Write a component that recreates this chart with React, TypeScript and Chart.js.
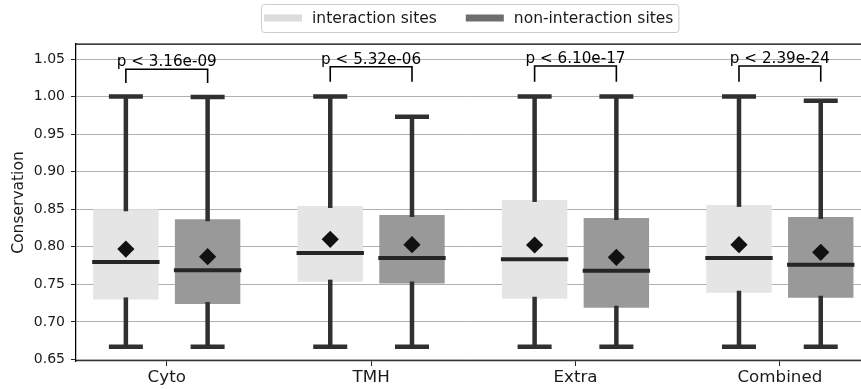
import { useEffect, useRef } from "react";
import { Chart, registerables } from "chart.js";

Chart.register(...registerables);

const FONT = "'DejaVu Sans', 'Liberation Sans', sans-serif";

// Groups along the x axis
const categories = ["Cyto", "TMH", "Extra", "Combined"];
const seriesNames = ["interaction sites", "non-interaction sites"];

// Interaction sites: box-plot summary per group
const interMin = [0.667, 0.667, 0.667, 0.667];
const interQ1 = [0.73, 0.7536, 0.7309, 0.7389];
const interMedian = [0.7798, 0.7918, 0.7833, 0.785];
const interQ3 = [0.85, 0.8544, 0.8624, 0.8558];
const interMax = [1.0, 1.0, 1.0, 1.0];
const interMean = [0.797, 0.81, 0.8024, 0.8029];

// Non-interaction sites: box-plot summary per group
const nonMin = [0.667, 0.667, 0.667, 0.667];
const nonQ1 = [0.7238, 0.7512, 0.7189, 0.7322];
const nonMedian = [0.7687, 0.785, 0.7682, 0.7762];
const nonQ3 = [0.8367, 0.8424, 0.8384, 0.8398];
const nonMax = [0.9993, 0.9731, 1.0, 0.9944];
const nonMean = [0.7869, 0.8029, 0.786, 0.7927];

// Significance annotations
const pLabels = ["p < 3.16e-09", "p < 5.32e-06", "p < 6.10e-17", "p < 2.39e-24"];
const bracketTop = [1.0363, 1.0398, 1.0407, 1.0407];
const bracketFoot = [1.018, 1.0198, 1.0198, 1.0198];

// Axis ticks
const yTicks = [0.65, 0.7, 0.75, 0.8, 0.85, 0.9, 0.95, 1.0, 1.05];

const boxColors = ["#e5e5e5", "#999999"];
const legendColors = ["#dcdcdc", "#6e6e6e"];
const WHISKER = "#303030";
const MEDIAN = "#252525";
const MEAN = "#111111";

const stats = [
  { min: interMin, q1: interQ1, med: interMedian, q3: interQ3, max: interMax, mean: interMean },
  { min: nonMin, q1: nonQ1, med: nonMedian, q3: nonQ3, max: nonMax, mean: nonMean },
];

function seg(ctx: CanvasRenderingContext2D, x1: number, y1: number, x2: number, y2: number) {
  ctx.beginPath();
  ctx.moveTo(x1, y1);
  ctx.lineTo(x2, y2);
  ctx.stroke();
}

// Whiskers, caps, medians and mean diamonds drawn over the boxes and grid
const boxPlotMarks = {
  id: "boxPlotMarks",
  afterDraw(chart: any) {
    const { ctx } = chart;
    const ys = chart.scales.y;
    const py = (v: number) => ys.getPixelForValue(v);
    ctx.save();
    stats.forEach((s, d) => {
      const meta = chart.getDatasetMeta(d);
      meta.data.forEach((el: any, i: number) => {
        const cx = el.x;
        const w = el.width;
        ctx.lineCap = "butt";
        ctx.strokeStyle = WHISKER;
        ctx.lineWidth = 4.5;
        seg(ctx, cx, py(s.q3[i]) + 2, cx, py(s.max[i]));
        seg(ctx, cx, py(s.q1[i]) - 2, cx, py(s.min[i]));
        const cw = w * 0.26;
        seg(ctx, cx - cw, py(s.max[i]), cx + cw, py(s.max[i]));
        seg(ctx, cx - cw, py(s.min[i]), cx + cw, py(s.min[i]));
        ctx.strokeStyle = MEDIAN;
        ctx.lineWidth = 4;
        seg(ctx, cx - w / 2 - 1, py(s.med[i]), cx + w / 2 + 1, py(s.med[i]));
        const my = py(s.mean[i]);
        const r = 8.6;
        ctx.fillStyle = MEAN;
        ctx.beginPath();
        ctx.moveTo(cx, my - r);
        ctx.lineTo(cx + r, my);
        ctx.lineTo(cx, my + r);
        ctx.lineTo(cx - r, my);
        ctx.closePath();
        ctx.fill();
      });
    });
    ctx.restore();
  },
};

// p-value brackets above each pair of boxes
const significance = {
  id: "significance",
  afterDraw(chart: any) {
    const { ctx } = chart;
    const ys = chart.scales.y;
    const a = chart.getDatasetMeta(0).data;
    const b = chart.getDatasetMeta(1).data;
    ctx.save();
    categories.forEach((_, i) => {
      const x1 = a[i].x;
      const x2 = b[i].x;
      const yt = ys.getPixelForValue(bracketTop[i]);
      const yf = ys.getPixelForValue(bracketFoot[i]);
      ctx.strokeStyle = "#000";
      ctx.lineWidth = 1.6;
      ctx.lineJoin = "miter";
      ctx.beginPath();
      ctx.moveTo(x1, yf);
      ctx.lineTo(x1, yt);
      ctx.lineTo(x2, yt);
      ctx.lineTo(x2, yf);
      ctx.stroke();
      ctx.fillStyle = "#000";
      ctx.font = `15.2px ${FONT}`;
      ctx.textAlign = "center";
      ctx.textBaseline = "alphabetic";
      ctx.fillText(pLabels[i], (x1 + x2) / 2, yt - 3);
    });
    ctx.restore();
  },
};

// Top spine of the plot frame
const frameTop = {
  id: "frameTop",
  afterDraw(chart: any) {
    const { ctx, chartArea } = chart;
    ctx.save();
    ctx.strokeStyle = "#000";
    ctx.lineWidth = 1.25;
    seg(ctx, chartArea.left, chartArea.top, chartArea.right, chartArea.top);
    ctx.restore();
  },
};

// Framed legend with line-style swatches above the plot
const framedLegend = {
  id: "framedLegend",
  afterDraw(chart: any) {
    const { ctx } = chart;
    ctx.save();
    ctx.font = `15.5px ${FONT}`;
    const swatchW = 38;
    const gapText = 10;
    const gapItem = 29;
    const left = 261;
    const top = 4;
    const h = 28;
    const cy = top + h / 2;
    const w0 = ctx.measureText(seriesNames[0]).width;
    const w1 = ctx.measureText(seriesNames[1]).width;
    const total = 3 + swatchW + gapText + w0 + gapItem + swatchW + gapText + w1 + 5;
    ctx.fillStyle = "rgba(255,255,255,0.8)";
    ctx.strokeStyle = "#cccccc";
    ctx.lineWidth = 1;
    ctx.beginPath();
    ctx.roundRect(left + 0.5, top + 0.5, total, h, 3);
    ctx.fill();
    ctx.stroke();
    let x = left + 3;
    [w0, w1].forEach((tw, k) => {
      ctx.fillStyle = legendColors[k];
      ctx.fillRect(x, cy - 3.5, swatchW, 7);
      x += swatchW + gapText;
      ctx.fillStyle = "#1a1a1a";
      ctx.textAlign = "left";
      ctx.textBaseline = "middle";
      ctx.fillText(seriesNames[k], x, cy + 0.5);
      x += tw + gapItem;
    });
    ctx.restore();
  },
};

export default function App() {
  const ref = useRef<HTMLCanvasElement>(null);

  useEffect(() => {
    const canvas = ref.current;
    if (!canvas) return;
    const chart = new Chart(canvas, {
      type: "bar",
      data: {
        datasets: stats.map((s, d) => ({
          label: seriesNames[d],
          data: categories.map((_, i) => ({ x: i, y: [s.q1[i], s.q3[i]] })),
          backgroundColor: boxColors[d],
          borderWidth: 0,
          categoryPercentage: 0.8,
          barPercentage: 0.8,
        })) as any,
      },
      options: {
        responsive: false,
        animation: false,
        devicePixelRatio: 1,
        layout: { padding: { top: 44, left: 0, right: 0, bottom: 0 } },
        plugins: {
          legend: { display: false },
          tooltip: { enabled: false },
        },
        scales: {
          x: {
            type: "linear",
            min: -0.444,
            max: 3.397,
            offset: false,
            afterBuildTicks: (scale: any) => {
              scale.ticks = categories.map((_, i) => ({ value: i }));
            },
            afterFit: (scale: any) => {
              scale.height = 28;
            },
            grid: {
              display: true,
              drawOnChartArea: false,
              drawTicks: true,
              tickLength: 5,
              tickColor: "#222",
              offset: false,
            },
            border: { display: true, color: "#333", width: 1.25 },
            ticks: {
              padding: 2,
              color: "#1a1a1a",
              font: { family: FONT, size: 16.7 },
              callback: (v: any) => categories[v] ?? "",
              maxRotation: 0,
              autoSkip: false,
            },
          },
          y: {
            type: "linear",
            min: 0.648,
            max: 1.07,
            z: 1,
            afterBuildTicks: (scale: any) => {
              scale.ticks = yTicks.map((v) => ({ value: v }));
            },
            afterFit: (scale: any) => {
              scale.width = 76;
            },
            grid: {
              color: "#b0b0b0",
              lineWidth: 1,
              drawTicks: true,
              tickLength: 5,
              tickColor: "#222",
            },
            border: { display: true, color: "#000", width: 1.25 },
            ticks: {
              padding: 6,
              color: "#1a1a1a",
              font: { family: FONT, size: 14 },
              callback: (v: any) => Number(v).toFixed(2),
            },
            title: {
              display: true,
              text: "Conservation",
              color: "#1a1a1a",
              font: { family: FONT, size: 15.5 },
              padding: { top: 10, bottom: 0 },
            },
          },
        },
      } as any,
      plugins: [boxPlotMarks, significance, frameTop, framedLegend],
    });
    return () => chart.destroy();
  }, []);

  return (
    <div style={{ position: "fixed", left: 0, top: 0, width: 861, height: 389, background: "#fff" }}>
      <canvas ref={ref} width={861} height={389} style={{ display: "block" }} />
    </div>
  );
}
